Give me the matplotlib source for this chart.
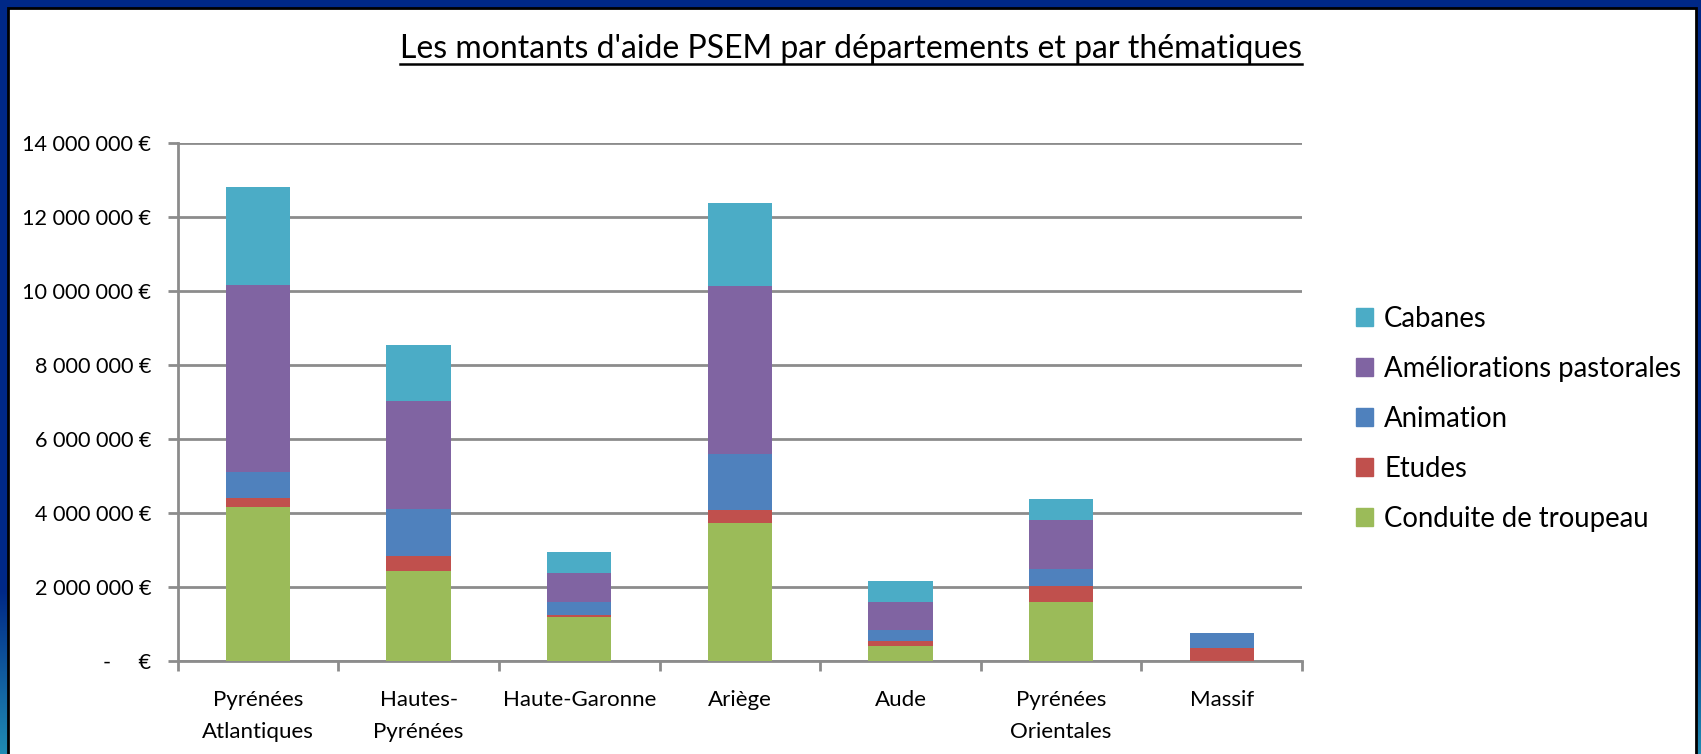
import matplotlib.pyplot as plt
import numpy as np
from matplotlib.lines import Line2D
from matplotlib.patches import Rectangle, Patch
from matplotlib.ticker import FuncFormatter, MultipleLocator, FixedLocator

departements = ["Pyrénées\nAtlantiques", "Hautes-\nPyrénées", "Haute-Garonne",
                "Ariège", "Aude", "Pyrénées\nOrientales", "Massif"]
conduite = [4.16e6, 2.43e6, 1.19e6, 3.73e6, 0.41e6, 1.59e6, 0.0]
etudes = [0.25e6, 0.42e6, 0.05e6, 0.35e6, 0.13e6, 0.44e6, 0.35e6]
animation = [0.71e6, 1.25e6, 0.35e6, 1.51e6, 0.30e6, 0.46e6, 0.41e6]
ameliorations = [5.04e6, 2.93e6, 0.79e6, 4.55e6, 0.75e6, 1.32e6, 0.0]
cabanes = [2.65e6, 1.51e6, 0.57e6, 2.24e6, 0.57e6, 0.57e6, 0.0]

series = [("Conduite de troupeau", conduite, "#9BBB59"),
          ("Etudes", etudes, "#C0504D"),
          ("Animation", animation, "#4F81BD"),
          ("Améliorations pastorales", ameliorations, "#8064A2"),
          ("Cabanes", cabanes, "#4BACC6")]

FONT = "Lato"
W, H = 1701, 754
fig = plt.figure(figsize=(W / 100, H / 100), dpi=100)

# slide background: navy with a teal fade at the bottom
bg = fig.add_axes([0, 0, 1, 1], zorder=-10)
bg.axis("off")
top = np.array([0, 40, 135]) / 255
bot = np.array([32, 140, 180]) / 255
t = np.clip((np.arange(H) - 590) / (H - 590), 0, 1)[:, None]
grad = (1 - t) * top + t * bot
bg.imshow(np.repeat(grad[:, None, :], 2, axis=1), aspect="auto", extent=[0, 1, 0, 1])
bg.set_xlim(0, 1)
bg.set_ylim(0, 1)
bg.add_patch(Rectangle((8 / W, -0.01), (1696 - 8) / W, 1.01 - 8 / H,
                       facecolor="white", edgecolor="black", linewidth=2))

ax = fig.add_axes([177.7 / W, 1 - 661 / H, (1302 - 177.7) / W, (661 - 143.3) / H])
x = np.arange(len(departements))
bottom = np.zeros(len(departements))
for name, vals, col in series:
    ax.bar(x, vals, width=0.4, bottom=bottom, color=col, label=name, zorder=3)
    bottom += np.array(vals)

ax.set_xlim(-0.5, len(departements) - 0.5)
ax.set_ylim(0, 14e6)
ax.yaxis.set_major_locator(MultipleLocator(2e6))


def fmt(v, pos):
    if v == 0:
        return "-     €"
    return f"{v:,.0f} €".replace(",", " ")


ax.yaxis.set_major_formatter(FuncFormatter(fmt))
ax.grid(axis="y", color="#8c8c8c", linewidth=2, zorder=0)
for s in ["top", "right"]:
    ax.spines[s].set_visible(False)
for s in ["left", "bottom"]:
    ax.spines[s].set_color("#8c8c8c")
    ax.spines[s].set_linewidth(2)
ax.set_xticks(x)
ax.set_xticklabels(departements, fontfamily=FONT, fontsize=16, linespacing=1.75)
ax.xaxis.set_minor_locator(FixedLocator(np.arange(-0.5, len(departements), 1)))
ax.tick_params(axis="x", which="major", length=0, pad=21)
ax.tick_params(axis="x", which="minor", length=7, width=2, color="#8c8c8c")
ax.tick_params(axis="y", length=7, width=2, color="#8c8c8c", pad=12)
for lab in ax.get_yticklabels():
    lab.set_fontfamily(FONT)
    lab.set_fontsize(15.6)

handles = [Patch(color=col, label=name) for name, _, col in reversed(series)]
fig.legend(handles=handles, loc="upper left", bbox_to_anchor=(1345 / W, 1 - 295 / H),
           frameon=False, prop={"family": FONT, "size": 19.8}, handlelength=0.62,
           handleheight=0.62, handletextpad=0.4, labelspacing=0.87, borderaxespad=0)

title = fig.text(851 / W, 1 - 58 / H, "Les montants d'aide PSEM par départements et par thématiques",
                 ha="center", va="baseline", fontfamily=FONT, fontsize=23)
fig.canvas.draw()
bb = title.get_window_extent()
fig.add_artist(Line2D([bb.x0 / W, bb.x1 / W], [1 - 64 / H] * 2, color="black", linewidth=1.8,
                      transform=fig.transFigure))

fig.savefig("out.png", dpi=100)
